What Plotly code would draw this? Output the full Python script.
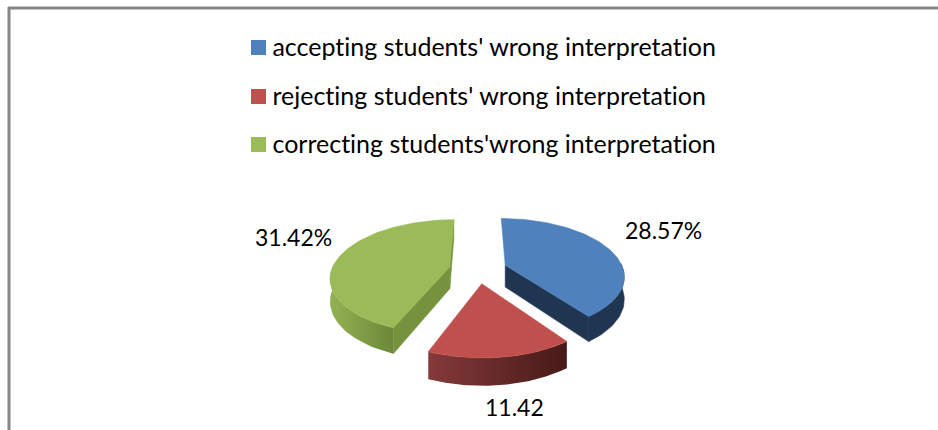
import math
import plotly.graph_objects as go

categories = ["accepting students' wrong interpretation",
              "rejecting students' wrong interpretation",
              "correcting students'wrong interpretation"]
values = [28.57, 11.42, 31.42]
value_labels = ["28.57%", "11.42", "31.42%"]

top_colors = ["#4F81BD", "#C0504D", "#9BBB59"]
cut_colors = ["#1F3552", "#5A2220", "#76923C"]
arc_grad = [("#1F3552", "#1F3552"), ("#85393A", "#461A18"), ("#93B254", "#6C8838")]

W, H = 938, 430
CX, CY = 478, 269.5
R, EXPL, KY, PERSP, THICK = 118, 29, 0.475, 0.17, 22


def project(u, v, drop=0.0):
    s = 1 / (1 + PERSP * v / R)
    return CX + u * s, CY - KY * v * s + drop * s


def pt(theta, mid, r=R, drop=0.0):
    u = EXPL * math.sin(mid) + r * math.sin(theta)
    v = EXPL * math.cos(mid) + r * math.cos(theta)
    return project(u, v, drop)


def poly(points, color=None, grad=None):
    xs = [p[0] for p in points] + [points[0][0]]
    ys = [p[1] for p in points] + [points[0][1]]
    if color:
        kw = dict(fillcolor=color, line=dict(width=0.6, color=color))
    else:
        kw = dict(line=dict(width=0),
                  fillgradient=dict(type="horizontal", colorscale=[[0, grad[0]], [1, grad[1]]]))
    return go.Scatter(x=xs, y=ys, mode="lines", fill="toself",
                      hoverinfo="skip", showlegend=False, **kw)


fig = go.Figure()
total = sum(values)
start = 0.0
for i, val in enumerate(values):
    span = 2 * math.pi * val / total
    end = start + span
    mid = start + span / 2
    n = 80
    thetas = [start + span * j / n for j in range(n + 1)]
    apex = pt(0, mid, r=0)
    apex_d = pt(0, mid, r=0, drop=THICK)

    # the front of the rim
    front = [t for t in thetas if math.cos(t) < 0.05]
    rim = [pt(t, mid) for t in front] + [pt(t, mid, drop=THICK) for t in reversed(front)]
    if arc_grad[i][0] == arc_grad[i][1]:
        fig.add_trace(poly(rim, color=arc_grad[i][0]))
    else:
        fig.add_trace(poly(rim, grad=arc_grad[i]))
    # the cut faces that can be seen: blue's closing edge, both of green's
    visible_edges = {0: [end], 1: [], 2: [start, end]}[i]
    for edge in visible_edges:
        fig.add_trace(poly([apex, pt(edge, mid), pt(edge, mid, drop=THICK), apex_d],
                           color=cut_colors[i]))
    # top face
    fig.add_trace(poly([apex] + [pt(t, mid) for t in thetas], color=top_colors[i]))
    start = end

shapes = [
    dict(type="line", x0=9, x1=9, y0=7, y1=H, line=dict(color="#868686", width=3)),
    dict(type="line", x0=8, x1=W, y0=8, y1=8, line=dict(color="#868686", width=3)),
]
annotations = []
legend_y = [47.5, 96.5, 144.5]
for name, color, y in zip(categories, top_colors, legend_y):
    shapes.append(dict(type="rect", x0=251, x1=266, y0=y - 7.5, y1=y + 7.5,
                       fillcolor=color, line=dict(width=0)))
    annotations.append(dict(x=269.5, y=y - 2, text=name, xanchor="left", yanchor="middle",
                            showarrow=False, font=dict(size=25, color="#000000")))

label_pos = [(663.5, 230), (514, 407), (293.5, 237)]
for text, (x, y) in zip(value_labels, label_pos):
    annotations.append(dict(x=x, y=y, text=text, xanchor="center", yanchor="middle",
                            showarrow=False, font=dict(size=23, color="#000000")))

fig.update_layout(
    width=W, height=H, margin=dict(l=0, r=0, t=0, b=0),
    paper_bgcolor="white", plot_bgcolor="white",
    font=dict(family="Lato"),
    xaxis=dict(range=[0, W], visible=False, fixedrange=True),
    yaxis=dict(range=[H, 0], visible=False, fixedrange=True),
    shapes=shapes, annotations=annotations, showlegend=False,
)
fig.write_html(
    "out.html", config={"displayModeBar": False},
    post_script="document.body.style.margin='0';document.body.style.overflow='hidden';"
                "var s=document.createElement('style');"
                "s.textContent='text{font-variant-ligatures:none !important}';"
                "document.head.appendChild(s);",
)
